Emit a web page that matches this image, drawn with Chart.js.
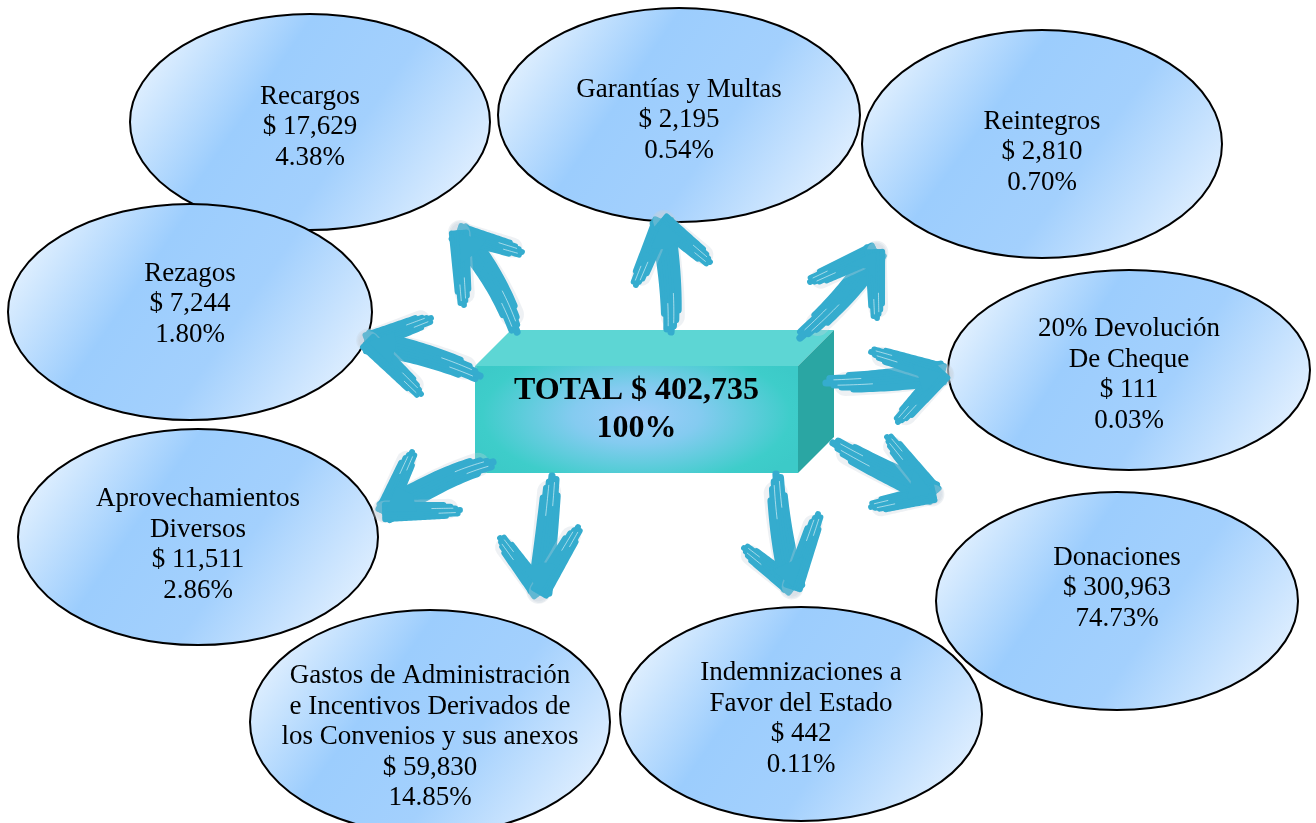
<!DOCTYPE html>
<html>
<head>
<meta charset="utf-8">
<title>Ingresos - Total $ 402,735</title>
<script src="https://cdn.jsdelivr.net/npm/chart.js@4.4.1/dist/chart.umd.min.js"></script>
<style>
  html, body { margin: 0; padding: 0; background: #fff; }
  canvas { display: block; }
</style>
</head>
<body>
<canvas id="diagram" width="1316" height="823"></canvas>
<script>
// --- data ---
const categories = [
    ['Recargos'],
    ['Garantías y Multas'],
    ['Reintegros'],
    ['Rezagos'],
    ['20% Devolución', 'De Cheque'],
    ['Aprovechamientos', 'Diversos'],
    ['Donaciones'],
    ['Gastos de Administración', 'e Incentivos Derivados de', 'los Convenios y sus anexos'],
    ['Indemnizaciones a', 'Favor del Estado']
];
const amounts = [17629, 2195, 2810, 7244, 111, 11511, 300963, 59830, 442];
const percents = [4.38, 0.54, 0.70, 1.80, 0.03, 2.86, 74.73, 14.85, 0.11];
const totalAmount = 402735;
const totalPercent = 100;

// --- layout (scale units, 1 unit = 1 px) ---
const nodeCenters = [
    [310, 122], [679, 115], [1042, 144], [190, 312], [1129, 370],
    [198, 537], [1117, 601], [430, 722], [801, 714]
];
const nodeRadii = [
    [180, 108], [181, 107], [180, 114], [182, 108], [181, 100],
    [180, 108], [181, 109], [180, 112], [181, 107]
];
const labelMidY = [127, 120, 152, 304, 375, 545, 588, 737, 719];
// box: front face and depth
const boxFront = { x0: 475, y0: 366, x1: 798, y1: 473 };
const boxDepth = { dx: 36, dy: -36 };
// arrows: tail, control, tip, barb A, barb B
const arrows = [
    [[517, 332], [498, 277], [459, 233], [522, 252], [464, 305]],
    [[671, 332], [673, 283], [662, 222], [636, 285], [710, 262]],
    [[800, 338], [856, 289], [875, 252], [810, 282], [877, 318]],
    [[480, 376], [430, 353], [368, 342], [431, 318], [421, 394]],
    [[493, 462], [447, 473], [385, 512], [412, 452], [460, 510]],
    [[826, 383], [890, 382], [942, 373], [871, 352], [898, 422]],
    [[833, 443], [883, 472], [933, 493], [887, 437], [871, 507]],
    [[552, 476], [548, 526], [540, 592], [500, 538], [578, 527]],
    [[776, 474], [779, 535], [793, 587], [744, 548], [818, 514]]
];

const ARROW_COLOR = '#35acce';
const FONT = '"Liberation Serif", "Times New Roman", serif';
const bristleGap = [0.16, 0.03, 0.08, 0.0, 0.05, 0.11, 0.2];

function fmtMoney(v) { return '$ ' + v.toLocaleString('en-US'); }

function curvePts(p0, p1, p2) {
    const pts = [];
    const N = 32;
    for (let i = 0; i <= N; i++) {
        const t = i / N, a = (1 - t) * (1 - t), b = 2 * (1 - t) * t, c = t * t;
        const x = a * p0[0] + b * p1[0] + c * p2[0];
        const y = a * p0[1] + b * p1[1] + c * p2[1];
        const dx = 2 * (1 - t) * (p1[0] - p0[0]) + 2 * t * (p2[0] - p1[0]);
        const dy = 2 * (1 - t) * (p1[1] - p0[1]) + 2 * t * (p2[1] - p1[1]);
        const l = Math.hypot(dx, dy) || 1;
        pts.push({ x, y, nx: -dy / l, ny: dx / l, t });
    }
    return pts;
}

// brush stroke, ragged at start, full at end
function brush(ctx, p0, p1, p2, width) {
    const pts = curvePts(p0, p1, p2);
    const k = bristleGap.length;
    ctx.save();
    ctx.lineCap = 'round';
    ctx.lineJoin = 'round';
    // soft halo
    ctx.strokeStyle = 'rgba(200,210,218,0.3)';
    ctx.lineWidth = width + 3;
    ctx.beginPath();
    let st = false;
    pts.forEach(p => {
        if (p.t < 0.15) return;
        const x = p.x + p.nx * 1.5, y = p.y + p.ny * 1.5;
        if (!st) { ctx.moveTo(x, y); st = true; } else ctx.lineTo(x, y);
    });
    ctx.stroke();
    // bristles
    ctx.strokeStyle = ARROW_COLOR;
    for (let j = 0; j < k; j++) {
        const off = (j / (k - 1) - 0.5);
        ctx.lineWidth = width / k * 2.4;
        ctx.beginPath();
        let started = false;
        pts.forEach(p => {
            if (p.t < bristleGap[j]) return;
            const w = width * (0.7 + 0.3 * p.t);
            const x = p.x + p.nx * off * w * 0.85, y = p.y + p.ny * off * w * 0.85;
            if (!started) { ctx.moveTo(x, y); started = true; } else ctx.lineTo(x, y);
        });
        ctx.stroke();
    }
    // light streaks near the ragged end
    ctx.strokeStyle = 'rgba(255,255,255,0.55)';
    ctx.lineWidth = 1;
    [-0.2, 0.16].forEach((off, s) => {
        ctx.beginPath();
        let started = false;
        pts.forEach(p => {
            if (p.t < 0.04 + s * 0.05 || p.t > 0.3 + s * 0.08) return;
            const w = width * (0.7 + 0.3 * p.t);
            const x = p.x + p.nx * off * w, y = p.y + p.ny * off * w;
            if (!started) { ctx.moveTo(x, y); started = true; } else ctx.lineTo(x, y);
        });
        ctx.stroke();
    });
    ctx.restore();
}

function drawArrow(ctx, a, px, py) {
    const P = p => [px(p[0]), py(p[1])];
    const tail = P(a[0]), ctrl = P(a[1]), tip = P(a[2]), bA = P(a[3]), bB = P(a[4]);
    brush(ctx, tail, ctrl, tip, 21);
    const mid = (q) => [(q[0] + tip[0]) / 2, (q[1] + tip[1]) / 2];
    brush(ctx, bA, mid(bA), tip, 17);
    brush(ctx, bB, mid(bB), tip, 17);
    // solid head join
    ctx.save();
    ctx.fillStyle = ARROW_COLOR;
    const f = 0.42;
    ctx.beginPath();
    ctx.moveTo(tip[0], tip[1]);
    ctx.lineTo(tip[0] + (bA[0] - tip[0]) * f, tip[1] + (bA[1] - tip[1]) * f);
    ctx.lineTo(tip[0] + (ctrl[0] - tip[0]) * 0.45, tip[1] + (ctrl[1] - tip[1]) * 0.45);
    ctx.lineTo(tip[0] + (bB[0] - tip[0]) * f, tip[1] + (bB[1] - tip[1]) * f);
    ctx.closePath();
    ctx.fill();
    ctx.restore();
}

function drawEllipseNode(ctx, cx, cy, rx, ry) {
    const g = ctx.createLinearGradient(cx - rx, cy - ry * 1.1, cx + rx * 0.9, cy + ry * 1.1);
    g.addColorStop(0, '#ffffff');
    g.addColorStop(0.38, '#9ccdfd');
    g.addColorStop(0.62, '#a3d0fd');
    g.addColorStop(1, '#eef6ff');
    ctx.beginPath();
    ctx.ellipse(cx, cy, rx, ry, 0, 0, Math.PI * 2);
    ctx.fillStyle = g;
    ctx.fill();
    ctx.lineWidth = 2;
    ctx.strokeStyle = '#000';
    ctx.stroke();
}

function drawBox(ctx, px, py) {
    const x0 = px(boxFront.x0), y0 = py(boxFront.y0), x1 = px(boxFront.x1), y1 = py(boxFront.y1);
    const dx = px(boxFront.x0 + boxDepth.dx) - x0, dy = py(boxFront.y0 + boxDepth.dy) - y0;
    // top
    ctx.fillStyle = '#5dd6d4';
    ctx.beginPath();
    ctx.moveTo(x0, y0); ctx.lineTo(x0 + dx, y0 + dy); ctx.lineTo(x1 + dx, y0 + dy); ctx.lineTo(x1, y0);
    ctx.closePath(); ctx.fill();
    // right side
    ctx.fillStyle = '#2aa6a3';
    ctx.beginPath();
    ctx.moveTo(x1, y0); ctx.lineTo(x1 + dx, y0 + dy); ctx.lineTo(x1 + dx, y1 + dy); ctx.lineTo(x1, y1);
    ctx.closePath(); ctx.fill();
    // front with soft blue glow
    ctx.save();
    const cx = (x0 + x1) / 2, cy = (y0 + y1) / 2 - 4;
    ctx.beginPath(); ctx.rect(x0, y0, x1 - x0, y1 - y0); ctx.clip();
    ctx.translate(cx, cy);
    ctx.scale(1, 0.45);
    const g = ctx.createRadialGradient(0, 0, 0, 0, 0, (x1 - x0) / 2 + 20);
    g.addColorStop(0, '#9fcdfb');
    g.addColorStop(0.35, '#84cbf0');
    g.addColorStop(0.85, '#3ecdca');
    g.addColorStop(1, '#3ccac8');
    ctx.fillStyle = g;
    ctx.fillRect(-(x1 - x0), -(y1 - y0) * 3, (x1 - x0) * 2, (y1 - y0) * 6);
    ctx.restore();
}

const diagramPlugin = {
    id: 'diagram',
    afterDatasetsDraw(chart) {
        const { ctx } = chart;
        const sx = chart.scales.x, sy = chart.scales.y;
        const px = v => sx.getPixelForValue(v), py = v => sy.getPixelForValue(v);
        const meta = chart.getDatasetMeta(0);
        ctx.save();
        // ellipses + labels
        meta.data.forEach((el, i) => {
            const rx = px(nodeRadii[i][0]) - px(0);
            const ry = Math.abs(py(nodeRadii[i][1]) - py(0));
            drawEllipseNode(ctx, el.x, el.y, rx, ry);
            const lines = [...categories[i], fmtMoney(amounts[i]), percents[i].toFixed(2) + '%'];
            ctx.fillStyle = '#000';
            ctx.font = '27px ' + FONT;
            ctx.textAlign = 'center';
            ctx.textBaseline = 'middle';
            const lh = 30.5;
            const top = py(labelMidY[i]) - (lines.length - 1) * lh / 2;
            lines.forEach((t, j) => ctx.fillText(t, el.x, top + j * lh));
        });
        drawBox(ctx, px, py);
        arrows.forEach(a => drawArrow(ctx, a, px, py));
        // total text
        ctx.fillStyle = '#000';
        ctx.font = 'bold 32px ' + FONT;
        ctx.textAlign = 'center';
        ctx.textBaseline = 'middle';
        const bx = px((boxFront.x0 + boxFront.x1) / 2);
        ctx.fillText('TOTAL ' + fmtMoney(totalAmount), bx, py(391));
        ctx.fillText(totalPercent + '%', bx, py(429));
        ctx.restore();
    }
};

new Chart(document.getElementById('diagram').getContext('2d'), {
    type: 'scatter',
    data: {
        datasets: [{
            label: 'Ingresos',
            data: nodeCenters.map((c, i) => ({ x: c[0], y: c[1], v: amounts[i] })),
            pointRadius: 0,
            pointHoverRadius: 0
        }]
    },
    options: {
        responsive: false,
        animation: false,
        devicePixelRatio: 1,
        layout: { padding: 0 },
        events: [],
        plugins: { legend: { display: false }, tooltip: { enabled: false } },
        scales: {
            x: { type: 'linear', min: 0, max: 1316, display: false },
            y: { type: 'linear', min: 0, max: 823, reverse: true, display: false }
        }
    },
    plugins: [diagramPlugin]
});
</script>
</body>
</html>
